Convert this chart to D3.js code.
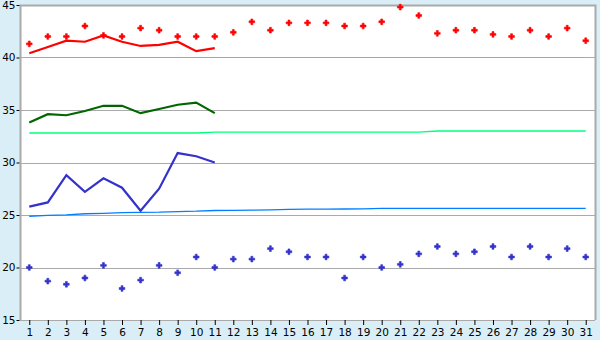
<!DOCTYPE html>
<html><head><meta charset="utf-8">
<script src="https://cdn.jsdelivr.net/npm/d3@7/dist/d3.min.js"></script>
<style>
html,body{margin:0;padding:0;background:#d9eef6;}
svg{display:block;}
text{font-family:"DejaVu Sans",Verdana,sans-serif;font-size:10.5px;fill:#000;}
</style></head>
<body>
<svg id="chart" width="600" height="340"></svg>
<script>
const days = d3.range(1, 32);
const yTicks = [15, 20, 25, 30, 35, 40, 45];
const redPoints = [41.3, 42.0, 42.0, 43.0, 42.1, 42.0, 42.8, 42.6, 42.0, 42.0, 42.0, 42.4, 43.4, 42.6, 43.3, 43.3, 43.3, 43.0, 43.0, 43.4, 44.8, 44.0, 42.3, 42.6, 42.6, 42.2, 42.0, 42.6, 42.0, 42.8, 41.6];
const redLine = [40.4, 41.0, 41.6, 41.5, 42.1, 41.5, 41.1, 41.2, 41.5, 40.6, 40.9];
const redRef = 40;
const greenLine = [33.8, 34.6, 34.5, 34.9, 35.4, 35.4, 34.7, 35.1, 35.5, 35.7, 34.7];
const greenTrend = [32.81, 32.81, 32.81, 32.81, 32.81, 32.81, 32.81, 32.81, 32.81, 32.81, 32.9, 32.9, 32.9, 32.9, 32.9, 32.9, 32.9, 32.9, 32.9, 32.9, 32.9, 32.9, 33.0, 33.0, 33.0, 33.0, 33.0, 33.0, 33.0, 33.0, 33.0];
const blueLine = [25.8, 26.2, 28.8, 27.2, 28.5, 27.6, 25.4, 27.5, 30.9, 30.6, 30.0];
const blueTrend = [24.88, 24.96, 25.02, 25.12, 25.16, 25.22, 25.25, 25.27, 25.33, 25.36, 25.43, 25.45, 25.46, 25.48, 25.53, 25.55, 25.56, 25.57, 25.58, 25.63, 25.64, 25.64, 25.64, 25.64, 25.64, 25.64, 25.64, 25.64, 25.64, 25.64, 25.64];
const bluePoints = [20.0, 18.7, 18.4, 19.0, 20.2, 18.0, 18.8, 20.2, 19.5, 21.0, 20.0, 20.8, 20.8, 21.8, 21.5, 21.0, 21.0, 19.0, 21.0, 20.0, 20.3, 21.3, 22.0, 21.3, 21.5, 22.0, 21.0, 22.0, 21.0, 21.8, 21.0];

const svg = d3.select("#chart");
const L = 20, R = 595, T = 5, B = 320;
const x = d3.scaleLinear().domain([0.5, 31.5]).range([L, R]);
const y = d3.scaleLinear().domain([15, 45]).range([B, T]);

svg.append("rect").attr("x", L).attr("y", T).attr("width", R - L).attr("height", B - T).attr("fill", "#fff");

// gridlines
svg.append("g").selectAll("line").data(yTicks).join("line")
  .attr("x1", L).attr("x2", R)
  .attr("y1", d => Math.round(y(d)) + 0.5).attr("y2", d => Math.round(y(d)) + 0.5)
  .attr("stroke", "#aaaaaa").attr("stroke-width", 1);

// reference line at 40
svg.append("line")
  .attr("x1", x(1)).attr("x2", x(31))
  .attr("y1", Math.round(y(redRef)) + 0.5).attr("y2", Math.round(y(redRef)) + 0.5)
  .attr("stroke", "#ff8080").attr("stroke-width", 1);

// border
svg.append("path")
  .attr("d", `M${L+0.5},${B}V${T+0.5}H${R+0.5}V${B}`)
  .attr("fill", "none").attr("stroke", "#aaaaaa").attr("stroke-width", 2);

// axes
const yAxis = d3.axisLeft(y).tickValues(yTicks).tickSize(3).tickPadding(1);
const gy = svg.append("g").attr("transform", `translate(${L - 0.5},0)`).call(yAxis);
gy.select(".domain").remove();
gy.selectAll(".tick line").attr("stroke", "#000");

const xAxis = d3.axisBottom(x).tickValues(days).tickFormat(d3.format("d")).tickSize(5).tickPadding(4);
const gx = svg.append("g").attr("transform", `translate(0,${B})`).call(xAxis);
gx.select(".domain").remove();
gx.selectAll(".tick line").attr("stroke", "#000");

// trend lines
const line = d3.line().x((d, i) => x(i + 1)).y(d => y(d));
svg.append("path").datum(greenTrend).attr("d", line)
  .attr("fill", "none").attr("stroke", "#00ff80").attr("stroke-width", 1.3);
svg.append("path").datum(blueTrend).attr("d", line)
  .attr("fill", "none").attr("stroke", "#0080ff").attr("stroke-width", 1.3);

// main lines
svg.append("path").datum(redLine).attr("d", line)
  .attr("fill", "none").attr("stroke", "#ff0000").attr("stroke-width", 2.2);
svg.append("path").datum(greenLine).attr("d", line)
  .attr("fill", "none").attr("stroke", "#006600").attr("stroke-width", 2.2);
svg.append("path").datum(blueLine).attr("d", line)
  .attr("fill", "none").attr("stroke", "#3333cc").attr("stroke-width", 2.2);

// markers
const sym = d3.symbol().type(d3.symbolCross).size(18);
svg.append("g").selectAll("path").data(redPoints).join("path")
  .attr("transform", (d, i) => `translate(${x(i + 1)},${y(d)})`)
  .attr("d", sym).attr("fill", "#ff0000").attr("stroke", "#ff0000").attr("stroke-width", 0.6);
svg.append("g").selectAll("path").data(bluePoints).join("path")
  .attr("transform", (d, i) => `translate(${x(i + 1)},${y(d)})`)
  .attr("d", sym).attr("fill", "#3333cc").attr("stroke", "#3333cc").attr("stroke-width", 0.6);
</script>
</body></html>
